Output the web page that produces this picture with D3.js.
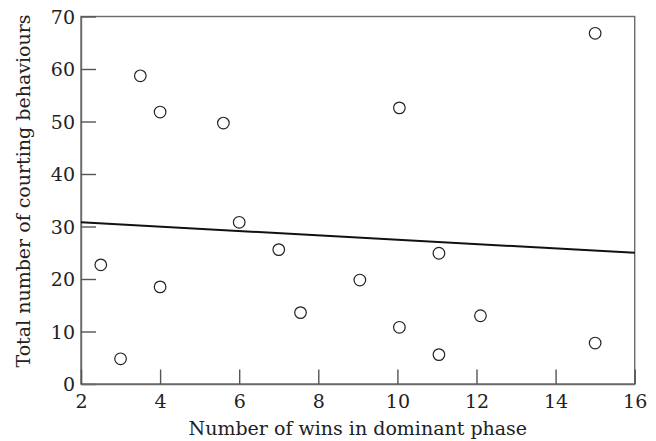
<!DOCTYPE html>
<html>
<head>
<meta charset="utf-8">
<script src="https://cdn.jsdelivr.net/npm/d3@7"></script>
<style>
  html, body { margin: 0; padding: 0; background: #fff; }
  svg { display: block; }
</style>
</head>
<body>
<svg id="chart" width="656" height="441"></svg>
<script>
// Data
const wins = [2.5, 3.0, 3.5, 4.0, 4.0, 5.6, 6.0, 7.0, 7.55, 9.05, 10.05, 10.05, 11.05, 11.05, 12.1, 15.0, 15.0];
const courting = [22.7, 4.8, 58.7, 51.8, 18.5, 49.7, 30.8, 25.6, 13.6, 19.8, 52.6, 10.8, 24.9, 5.6, 13.0, 66.8, 7.8];
const fitX = [2, 16];
const fitY = [30.8, 25.0];
const xTicks = [2, 4, 6, 8, 10, 12, 14, 16];
const yTicks = [0, 10, 20, 30, 40, 50, 60, 70];
const xTitle = "Number of wins in dominant phase";
const yTitle = "Total number of courting behaviours";

const svg = d3.select("#chart");
const mLeft = 81, mRight = 634.7, mTop = 16.5, mBottom = 384;
const font = "'DejaVu Serif', 'Liberation Serif', serif";

const x = d3.scaleLinear().domain([2, 16]).range([mLeft, mRight]);
const y = d3.scaleLinear().domain([0, 70]).range([mBottom, mTop]);

// frame
svg.append("rect")
  .attr("x", mLeft).attr("y", mTop)
  .attr("width", mRight - mLeft).attr("height", mBottom - mTop)
  .attr("fill", "none").attr("stroke", "#6a6a6a").attr("stroke-width", 1.4);

// axes
const yAxis = svg.append("g").attr("transform", `translate(${mLeft},0)`)
  .call(d3.axisLeft(y).tickValues(yTicks).tickSizeInner(-15).tickSizeOuter(0).tickPadding(6));
const xAxis = svg.append("g").attr("transform", `translate(0,${mBottom})`)
  .call(d3.axisBottom(x).tickValues(xTicks).tickSizeInner(-14.5).tickSizeOuter(0).tickPadding(11));

[xAxis, yAxis].forEach(g => {
  g.select(".domain").attr("stroke", "#6a6a6a").attr("stroke-width", 1.4);
  g.selectAll(".tick line").attr("stroke", "#555").attr("stroke-width", 1.4);
  g.selectAll(".tick text").attr("fill", "#222")
    .style("font-family", font).style("font-size", "19px");
});
yAxis.selectAll(".tick text").attr("dy", "0.36em");

// regression line
svg.append("line")
  .attr("x1", x(fitX[0])).attr("y1", y(fitY[0]))
  .attr("x2", x(fitX[1])).attr("y2", y(fitY[1]))
  .attr("stroke", "#111").attr("stroke-width", 2);

// points
svg.append("g").selectAll("circle")
  .data(wins.map((w, i) => [w, courting[i]]))
  .join("circle")
  .attr("cx", d => x(d[0])).attr("cy", d => y(d[1]))
  .attr("r", 5.8)
  .attr("fill", "#fff").attr("stroke", "#222").attr("stroke-width", 1.2);

// titles
svg.append("text")
  .attr("x", (mLeft + mRight) / 2).attr("y", 435)
  .attr("text-anchor", "middle").attr("fill", "#222")
  .style("font-family", font).style("font-size", "19px")
  .text(xTitle);
svg.append("text")
  .attr("transform", "translate(30,191) rotate(-90)")
  .attr("text-anchor", "middle").attr("fill", "#222")
  .style("font-family", font).style("font-size", "19px")
  .text(yTitle);
</script>
</body>
</html>
